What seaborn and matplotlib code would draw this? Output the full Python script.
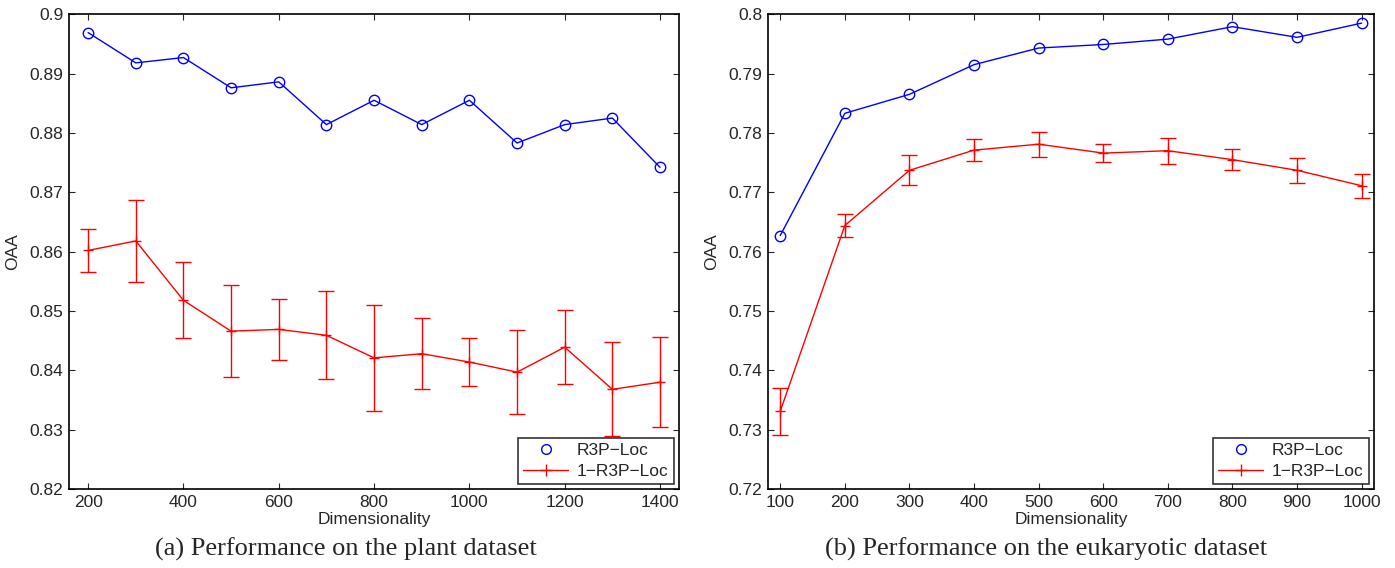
import numpy as np
import matplotlib
matplotlib.use("Agg")
import matplotlib.pyplot as plt
import seaborn as sns
from matplotlib.lines import Line2D

# (a) plant dataset
dims_plant = [200, 300, 400, 500, 600, 700, 800, 900, 1000, 1100, 1200, 1300, 1400]
r3p_plant = [0.8969, 0.8918, 0.8927, 0.8876, 0.8886, 0.8814, 0.8855, 0.8814, 0.8855, 0.8783, 0.8814, 0.8825, 0.8742]
one_r3p_plant = [0.8602, 0.8618, 0.8518, 0.8466, 0.8469, 0.8459, 0.8421, 0.8428, 0.8414, 0.8397, 0.8439, 0.8368, 0.8380]
one_r3p_plant_err = [0.0036, 0.0069, 0.0064, 0.0077, 0.0052, 0.0074, 0.0089, 0.0060, 0.0040, 0.0071, 0.0062, 0.0079, 0.0076]
yticks_plant = [0.82, 0.83, 0.84, 0.85, 0.86, 0.87, 0.88, 0.89, 0.90]
yticklabels_plant = ["0.82", "0.83", "0.84", "0.85", "0.86", "0.87", "0.88", "0.89", "0.9"]

# (b) eukaryotic dataset
dims_euk = [100, 200, 300, 400, 500, 600, 700, 800, 900, 1000]
r3p_euk = [0.7627, 0.7833, 0.7865, 0.7915, 0.7943, 0.7949, 0.7958, 0.7979, 0.7961, 0.7985]
one_r3p_euk = [0.7331, 0.7644, 0.7737, 0.7771, 0.7781, 0.7766, 0.7770, 0.7755, 0.7737, 0.7711]
one_r3p_euk_err = [0.0040, 0.0020, 0.0025, 0.0018, 0.0021, 0.0015, 0.0022, 0.0018, 0.0021, 0.0020]
yticks_euk = [0.72, 0.73, 0.74, 0.75, 0.76, 0.77, 0.78, 0.79, 0.80]
yticklabels_euk = ["0.72", "0.73", "0.74", "0.75", "0.76", "0.77", "0.78", "0.79", "0.8"]

labels = ["R3P\u2212Loc", "1\u2212R3P\u2212Loc"]
captions = ["(a) Performance on the plant dataset", "(b) Performance on the eukaryotic dataset"]


def plot_panel(ax, dims, r3p, one_r3p, err, xlim, ylim, yticks, yticklabels):
    sns.lineplot(x=dims, y=r3p, ax=ax, color="blue", linewidth=1.0, marker="o",
                 markersize=7.5, markerfacecolor="none", markeredgecolor="blue", markeredgewidth=1.0)
    ax.errorbar(dims, one_r3p, yerr=err, fmt="none", ecolor="red", elinewidth=1.0,
                capsize=5.5, capthick=1.0)
    sns.lineplot(x=dims, y=one_r3p, ax=ax, color="red", linewidth=1.0, marker="+",
                 markersize=7, markeredgecolor="red", markeredgewidth=1.0)

    ax.set_xlim(*xlim)
    ax.set_ylim(*ylim)
    ax.set_xticks(dims[::2] if len(dims) > 10 else dims)
    ax.set_yticks(yticks)
    ax.set_yticklabels(yticklabels)
    ax.tick_params(direction="in", top=True, right=True, length=4, width=0.8,
                   labelsize=12.5, pad=4)
    for s in ax.spines.values():
        s.set_visible(True)
        s.set_linewidth(1.2)
        s.set_color("black")
    ax.set_xlabel("Dimensionality", fontsize=12.5, labelpad=2)
    ax.set_ylabel("OAA", fontsize=12.5, labelpad=7)

    handles = [
        Line2D([], [], color="blue", linestyle="none", marker="o", markersize=7,
               markerfacecolor="none", markeredgewidth=1.0),
        Line2D([], [], color="red", linewidth=1.0, marker="+", markersize=9, markeredgewidth=1.0),
    ]
    leg = ax.legend(handles, labels, loc="lower right", fontsize=12.5, frameon=True, fancybox=False,
                    borderaxespad=0.3, handlelength=2.6, handletextpad=0.5, borderpad=0.3,
                    labelspacing=0.3)
    leg.get_frame().set_edgecolor("black")
    leg.get_frame().set_linewidth(1.2)
    leg.set_zorder(10)


def main():
    sns.set_style("ticks")
    plt.rcParams["font.family"] = ["Liberation Sans", "DejaVu Sans"]

    fig = plt.figure(figsize=(13.95, 5.68), dpi=100)
    ax1 = fig.add_axes([0.0495, 0.139, 0.4373, 0.836])
    ax2 = fig.add_axes([0.5505, 0.139, 0.4344, 0.836])

    plot_panel(ax1, dims_plant, r3p_plant, one_r3p_plant, one_r3p_plant_err,
               (160, 1440), (0.82, 0.90), yticks_plant, yticklabels_plant)
    plot_panel(ax2, dims_euk, r3p_euk, one_r3p_euk, one_r3p_euk_err,
               (81, 1019), (0.72, 0.80), yticks_euk, yticklabels_euk)

    fig.text(0.248, 0.033, captions[0], ha="center", va="center", fontsize=19,
             family=["Liberation Serif"])
    fig.text(0.75, 0.033, captions[1], ha="center", va="center", fontsize=19,
             family=["Liberation Serif"])

    fig.savefig("out.png", dpi=100)


if __name__ == "__main__":
    main()
